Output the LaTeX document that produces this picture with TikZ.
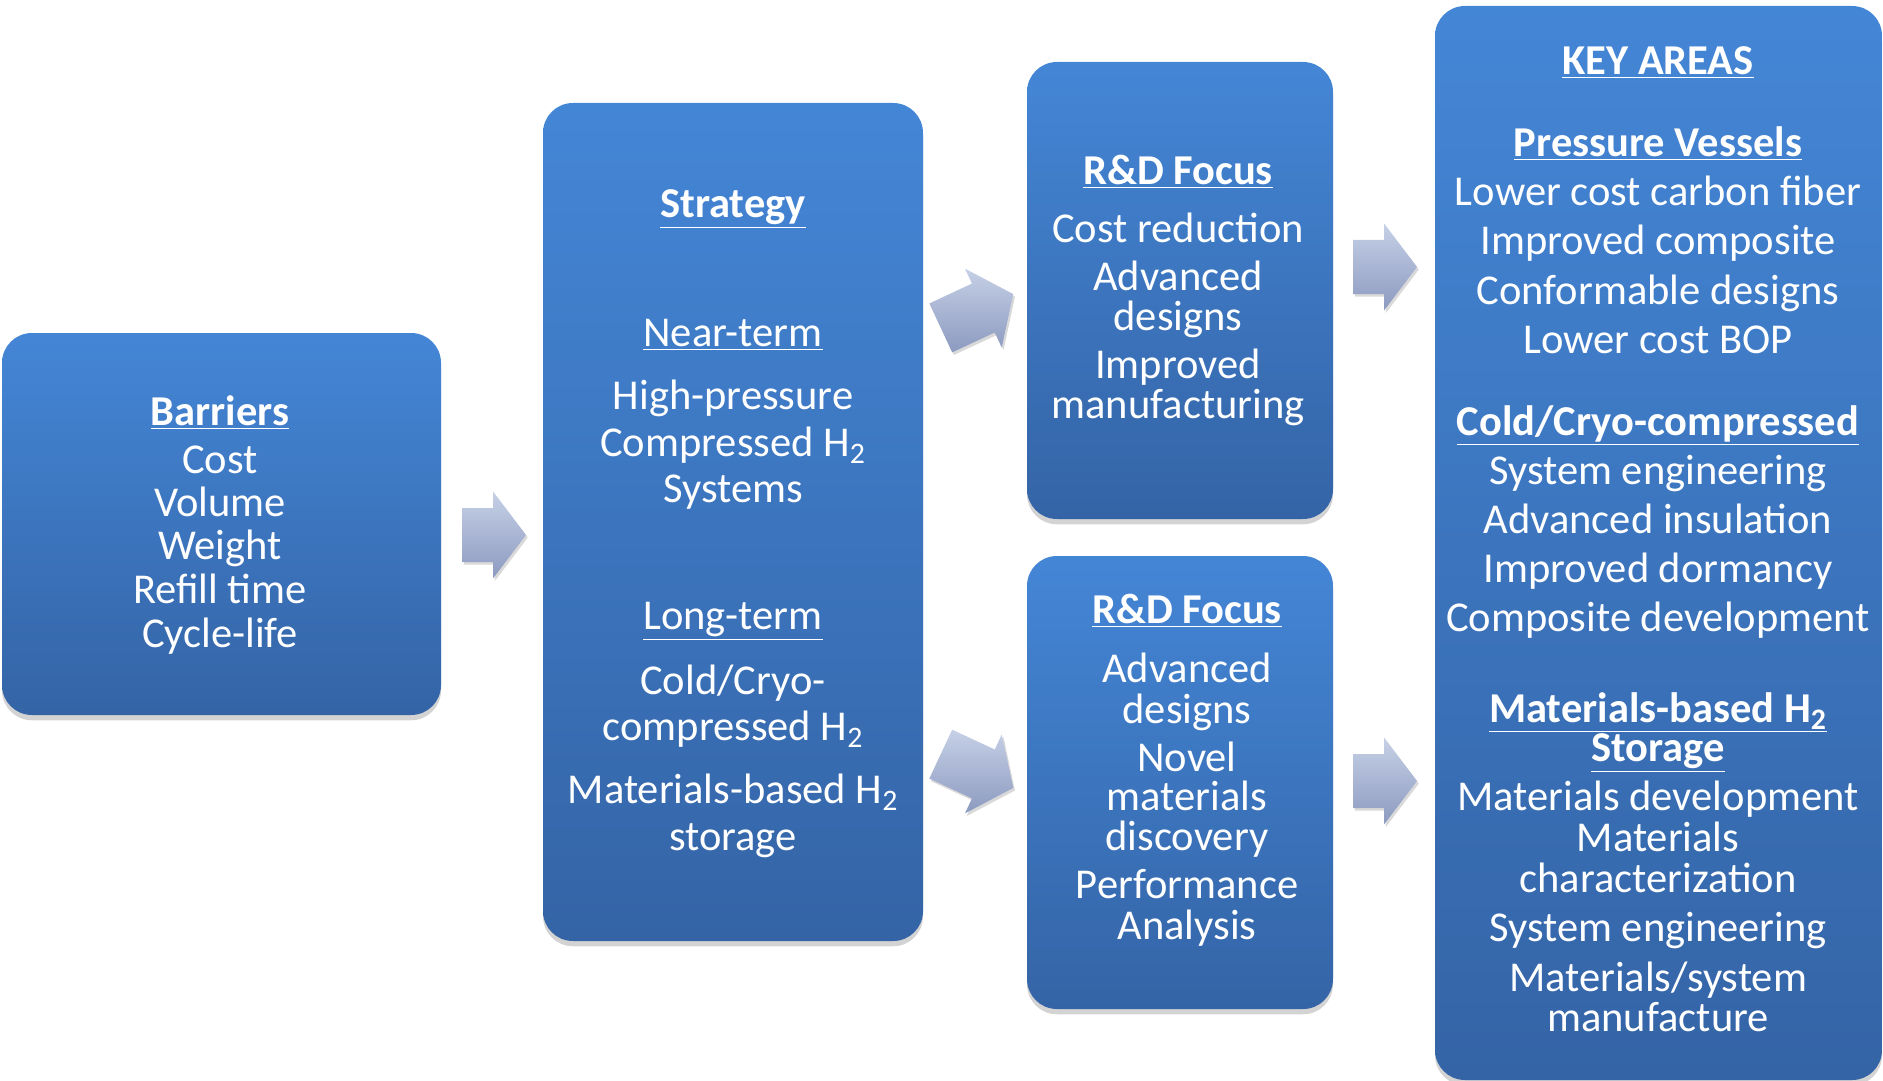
\documentclass[tikz,border=0pt]{standalone}
\usepackage{fontspec}
\setmainfont{Carlito}
\usetikzlibrary{shadows,fit}
\definecolor{paneltop}{HTML}{4486D6}
\definecolor{panelbot}{HTML}{3464A6}
\definecolor{arrowtop}{HTML}{C6D0E6}
\definecolor{arrowbot}{HTML}{8C9AC0}
\tikzset{
  panel/.style={rounded corners=17pt, inner sep=0pt, top color=paneltop, bottom color=panelbot,
    drop shadow={shadow xshift=0pt, shadow yshift=-3pt, opacity=0.35}},
  txt/.style={text=white, font=\fontsize{24.2}{28}\selectfont, text height=0.62em, text depth=0.2em, inner sep=0pt},
  head/.style={txt, font=\fontsize{24.2}{28}\selectfont\bfseries},
  blockarrow/.style={top color=arrowtop, bottom color=arrowbot, line join=round,
    drop shadow={shadow xshift=1pt, shadow yshift=-1.5pt, opacity=0.3}},
}
% block arrow: centre x, centre y, angle, length
\newcommand\blockarrow[4]{%
  \path[blockarrow, shift={(#1,#2)}, rotate=#3]
    (-#4/2,-27) -- (#4/2-33,-27) -- (#4/2-33,-43.5) -- (#4/2,0)
    -- (#4/2-33,43.5) -- (#4/2-33,27) -- (-#4/2,27) -- cycle;}
\begin{document}
\begin{tikzpicture}[x=0.02cm, y=-0.02cm]
\useasboundingbox (0,0) rectangle (1883,1081);
% panels
\node[panel, fit={(2,333) (441,715)}] (barriers) {};
\node[panel, fit={(543,103) (923,941)}] (strategy) {};
\node[panel, fit={(1027,62) (1333,519)}] (rdtop) {};
\node[panel, fit={(1027,556) (1333,1009)}] (rdbot) {};
\node[panel, fit={(1435,6) (1882,1080)}] (keyareas) {};
% block arrows between panels
\blockarrow{494}{535}{0}{64}
\blockarrow{977}{311}{25}{80}
\blockarrow{977}{771}{-25}{80}
\blockarrow{1385}{267}{0}{64}
\blockarrow{1385}{781}{0}{64}
% barriers
\node[head] (bar-h) at (220,422) {\underline{Barriers}};
\foreach \y/\t [count=\i] in {470/Cost, 513/Volume, 556/Weight, 600/Refill time, 644/Cycle-life}
  \node[txt] (bar-\i) at (220,\y) {\t};
% strategy
\node[head] (str-h) at (733,214) {\underline{Strategy}};
\node[txt] (str-near) at (733,343) {\underline{Near-term}};
\node[txt] (str-long) at (733,626) {\underline{Long-term}};
\foreach \y/\t [count=\i] in {406/High-pressure, 453/Compressed H\textsubscript{2}, 499/Systems,
    691/{Cold/Cryo-}, 737/compressed H\textsubscript{2}, 800/Materials-based H\textsubscript{2}, 847/storage}
  \node[txt] (str-\i) at (733,\y) {\t};
% R&D focus, upper
\node[head] (rdt-h) at (1178,181) {\underline{R\&D Focus}};
\foreach \y/\t [count=\i] in {239/Cost reduction, 287/Advanced, 327/designs, 375/Improved, 415/manufacturing}
  \node[txt] (rdt-\i) at (1178,\y) {\t};
% R&D focus, lower
\node[head] (rdb-h) at (1187,620) {\underline{R\&D Focus}};
\foreach \y/\t [count=\i] in {679/Advanced, 720/designs, 768/Novel, 807/materials, 847/discovery,
    895/Performance, 936/Analysis}
  \node[txt] (rdb-\i) at (1187,\y) {\t};
% key areas
\node[head] (key-h) at (1658,71) {\underline{KEY AREAS}};
\node[head] (key-pv) at (1658,153) {\underline{Pressure Vessels}};
\node[head] (key-cc) at (1658,432) {\underline{Cold/Cryo-compressed}};
\node[head] (key-mb) at (1658,719) {\underline{Materials-based H\textsubscript{2}}};
\node[head] (key-st) at (1658,758) {\underline{Storage}};
\foreach \y/\t [count=\i] in {202/Lower cost carbon fiber, 251/Improved composite, 301/Conformable designs,
    350/Lower cost BOP, 481/System engineering, 530/Advanced insulation, 579/Improved dormancy,
    628/Composite development, 807/Materials development, 848/Materials, 889/characterization,
    938/System engineering, 988/{Materials/system}, 1028/manufacture}
  \node[txt] (key-\i) at (1658,\y) {\t};
\end{tikzpicture}
\end{document}
